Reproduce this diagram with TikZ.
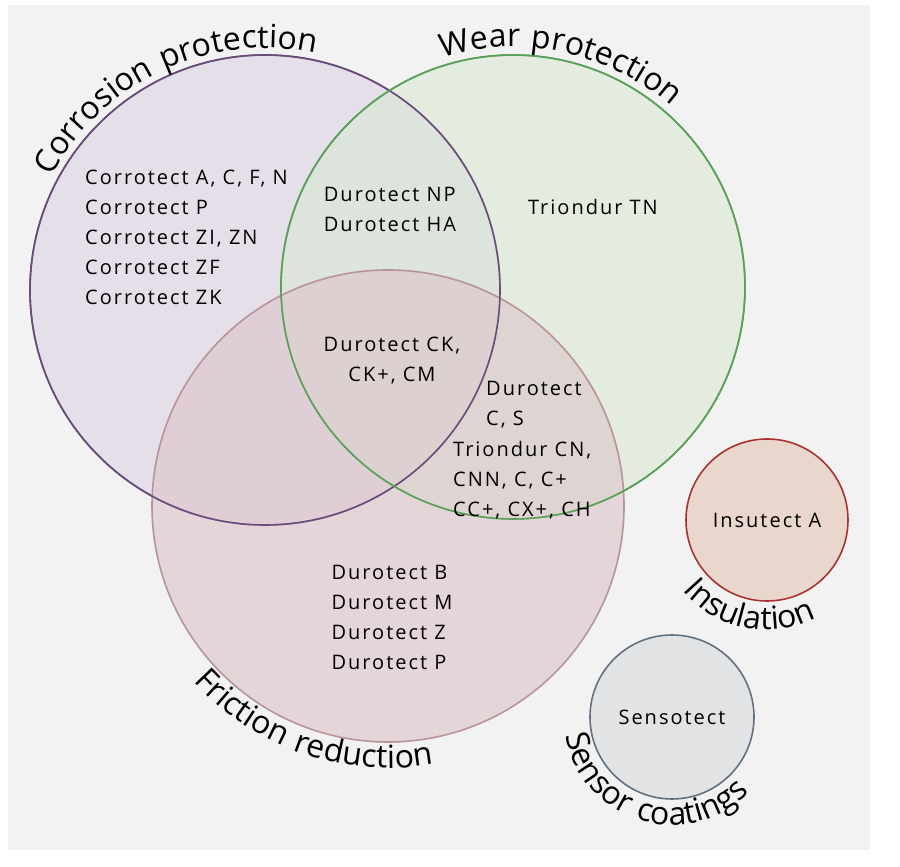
\documentclass[tikz,border=0pt]{standalone}
\usepackage{fontspec}
\setmainfont[LetterSpace=10]{Open Sans}
\newfontfamily\arcfont[LetterSpace=7]{Open Sans}
\usetikzlibrary{positioning, decorations.text}
\definecolor{corrfill}{HTML}{DDD3E6}
\definecolor{corrline}{HTML}{6A4C7A}
\definecolor{wearfill}{HTML}{D9E8D3}
\definecolor{wearline}{HTML}{5AA05A}
\definecolor{fricfill}{HTML}{DCC4C8}
\definecolor{fricline}{HTML}{B8939A}
\definecolor{insfill}{HTML}{E3C5B5}
\definecolor{insline}{HTML}{A83232}
\definecolor{sensfill}{HTML}{D8D9DC}
\definecolor{sensline}{HTML}{627080}
\begin{document}
\begin{tikzpicture}[x=1pt,y=1pt,
  area/.style={circle,draw,line width=1.6pt,fill opacity=0.6,text opacity=1},
  entry/.style={font=\fontsize{20}{30}\selectfont,align=left,inner sep=0pt},
  arclabel/.style={decorate,decoration={text along path,
     text={|\arcfont\fontsize{32}{32}\selectfont|#1}}}]
\useasboundingbox (0,0) rectangle (900,867);
\fill[black!5] (8,17) rectangle (870,862);
% main sets
\node[area,draw=corrline,fill=corrfill,minimum size=470pt] (corr) at (265,577) {};
\node[area,draw=wearline,fill=wearfill,minimum size=464pt] (wear) at (513,580) {};
\node[area,draw=fricline,fill=fricfill,minimum size=472pt] (fric) at (388,361) {};
\draw[corrline,line width=1.6pt] (corr) circle[radius=235];
\draw[wearline,line width=1.6pt] (wear) circle[radius=232];
% small sets
\node[area,draw=insline,fill=insfill,minimum size=162pt,entry] (ins) at (767,347) {Insutect A};
\node[area,draw=sensline,fill=sensfill,minimum size=164pt,entry] (sens) at (672,150) {Sensotect};
% labels on the rims
\path[arclabel=Corrosion protection] (corr.center) ++(152:242) arc[start angle=152, end angle=40, radius=242];
\path[arclabel=Wear protection] (wear.center) ++(107:240) arc[start angle=107, end angle=0, radius=240];
\path[arclabel=Friction reduction] (fric.center) ++(222:262) arc[start angle=222, end angle=320, radius=262];
\path[arclabel=Insulation] (ins.center) ++(220:110) arc[start angle=220, end angle=380, radius=110];
\path[arclabel=Sensor coatings] (sens.center) ++(190:108) arc[start angle=190, end angle=400, radius=108];
% products
\node[entry,anchor=west] (corrtxt) at (85,630) {Corrotect A, C, F, N\\Corrotect P\\Corrotect ZI, ZN\\Corrotect ZF\\Corrotect ZK};
\node[entry] (cwtxt) at (390,658) {Durotect NP\\Durotect HA};
\node[entry] (weartxt) at (593,660) {Triondur TN};
\node[entry,align=center] (alltxt) at (392,506) {Durotect CK,\\CK+, CM};
\node[entry,anchor=north west] (wftxt1) at (486,486) {Durotect\\C, S};
\node[entry,anchor=north west] (wftxt2) at (453,426) {Triondur CN,\\CNN, C, C+\\CC+, CX+, CH};
\node[entry] (frictxt) at (392,250) {Durotect B\\Durotect M\\Durotect Z\\Durotect P};
\end{tikzpicture}
\end{document}
